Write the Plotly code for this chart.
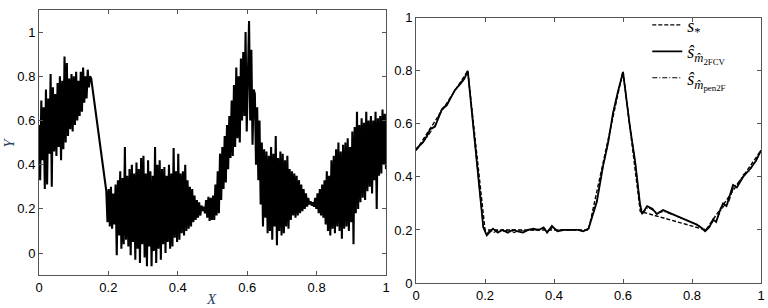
import numpy as np
import plotly.graph_objects as go

Y_obs = [
    0.58, 0.33, 0.69, 0.42, 0.66, 0.29,
    0.74, 0.31, 0.70, 0.45, 0.81, 0.30,
    0.75, 0.46, 0.72, 0.44, 0.77, 0.48,
    0.80, 0.42, 0.78, 0.47, 0.89, 0.50,
    0.86, 0.53, 0.79, 0.56, 0.81, 0.55,
    0.80, 0.58, 0.82, 0.60, 0.78, 0.62,
    0.82, 0.64, 0.84, 0.68, 0.80, 0.70,
    0.83, 0.75, 0.80, 0.79, 0.75, 0.71,
    0.67, 0.63, 0.59, 0.55, 0.51, 0.47,
    0.44, 0.40, 0.37, 0.33, 0.28, 0.14,
    0.29, 0.12, 0.30, 0.11, 0.27, 0.13,
    0.31, -0.01, 0.33, 0.08, 0.37, 0.02,
    0.34, 0.04, 0.48, 0.06, 0.35, 0.03,
    0.38, -0.01, 0.40, 0.05, 0.36, -0.03,
    0.41, 0.02, 0.38, -0.045, 0.43, 0.04,
    0.44, -0.02, 0.36, -0.06, 0.42, 0.03,
    0.37, -0.06, 0.35, 0.01, 0.48, -0.045,
    0.40, 0.02, 0.42, -0.03, 0.38, 0.04,
    0.39, 0.00, 0.35, 0.05, 0.40, 0.02,
    0.36, 0.03, 0.475, 0.07, 0.37, 0.05,
    0.45, 0.06, 0.36, 0.09, 0.37, 0.08,
    0.40, 0.10, 0.33, 0.11, 0.30, 0.12,
    0.29, 0.14, 0.26, 0.15, 0.24, 0.16,
    0.23, 0.17, 0.215, 0.19, 0.21, 0.18,
    0.24, 0.16, 0.255, 0.145, 0.25, 0.15,
    0.26, 0.15, 0.31, 0.17, 0.37, 0.18,
    0.45, 0.24, 0.48, 0.29, 0.53, 0.32,
    0.58, 0.38, 0.62, 0.43, 0.69, 0.44,
    0.76, 0.48, 0.84, 0.52, 0.80, 0.50,
    0.88, 0.60, 0.91, 0.62, 1.00, 0.55,
    0.82, 1.05, 0.60, 0.92, 0.49, 0.74,
    0.72, 0.40, 0.66, 0.33, 0.60, 0.22,
    0.50, 0.12, 0.47, 0.16, 0.46, 0.09,
    0.44, 0.10, 0.48, 0.06, 0.45, 0.12,
    0.53, 0.035, 0.43, 0.10, 0.46, 0.08,
    0.45, 0.09, 0.42, 0.12, 0.44, 0.11,
    0.38, 0.15, 0.37, 0.17, 0.36, 0.16,
    0.35, 0.17, 0.33, 0.18, 0.31, 0.19,
    0.29, 0.20, 0.27, 0.21, 0.25, 0.22,
    0.235, 0.215, 0.23, 0.21, 0.25, 0.20,
    0.27, 0.18, 0.29, 0.17, 0.31, 0.16,
    0.33, 0.13, 0.37, 0.10, 0.35, 0.08,
    0.42, 0.11, 0.44, 0.09, 0.47, 0.12,
    0.50, 0.10, 0.46, 0.065, 0.49, 0.11,
    0.50, 0.12, 0.52, 0.10, 0.48, 0.14,
    0.55, 0.04, 0.57, 0.18, 0.64, 0.20,
    0.58, 0.23, 0.61, 0.25, 0.59, 0.24,
    0.64, 0.28, 0.60, 0.30, 0.62, 0.27,
    0.60, 0.33, 0.64, 0.20, 0.61, 0.35,
    0.62, 0.36, 0.65, 0.40, 0.63, 0.38,
]
X_obs = np.linspace(0, 1, len(Y_obs))

# ---- Right panel: true function and two estimators ----
s_star_x = [0.0, 0.15, 0.20, 0.50, 0.60, 0.65, 0.84, 1.0]
s_star_y = [0.50, 0.80, 0.20, 0.20, 0.80, 0.27, 0.20, 0.50]

fcv_x = [0, 0.02, 0.032, 0.041, 0.055, 0.066, 0.075, 0.089, 0.10, 0.113, 0.128, 0.14, 0.15,
         0.176, 0.195, 0.205, 0.212, 0.223, 0.237, 0.25, 0.266, 0.28, 0.295, 0.31, 0.325,
         0.34, 0.355, 0.37, 0.38, 0.394, 0.41, 0.43, 0.45, 0.47, 0.485, 0.50, 0.524, 0.542,
         0.557, 0.571, 0.585, 0.60, 0.62, 0.635, 0.649, 0.655, 0.67, 0.685, 0.698, 0.716,
         0.76, 0.814, 0.825, 0.838, 0.85, 0.861, 0.87, 0.88, 0.89, 0.90, 0.919, 0.93, 0.948,
         0.968, 0.985, 1.0]
fcv_y = [0.505, 0.53, 0.555, 0.58, 0.59, 0.625, 0.655, 0.67, 0.695, 0.728, 0.75, 0.77, 0.80,
         0.46, 0.21, 0.18, 0.19, 0.205, 0.19, 0.20, 0.19, 0.20, 0.195, 0.19, 0.20,
         0.205, 0.20, 0.21, 0.19, 0.215, 0.195, 0.20, 0.20, 0.20, 0.195, 0.205, 0.305, 0.44,
         0.53, 0.64, 0.72, 0.795, 0.59, 0.46, 0.30, 0.26, 0.29, 0.28, 0.26, 0.275,
         0.25, 0.22, 0.21, 0.195, 0.21, 0.24, 0.23, 0.27, 0.30, 0.29, 0.37, 0.36, 0.40,
         0.43, 0.46, 0.50]

pen_x = [0, 0.02, 0.032, 0.045, 0.058, 0.068, 0.078, 0.09, 0.10, 0.115, 0.13, 0.14, 0.15,
         0.176, 0.195, 0.205, 0.215, 0.225, 0.24, 0.255, 0.27, 0.285, 0.30, 0.315, 0.33,
         0.345, 0.36, 0.372, 0.383, 0.396, 0.41, 0.43, 0.45, 0.47, 0.485, 0.50, 0.524, 0.542,
         0.557, 0.571, 0.585, 0.60, 0.62, 0.635, 0.649, 0.658, 0.672, 0.688, 0.70, 0.718,
         0.76, 0.814, 0.826, 0.84, 0.852, 0.862, 0.872, 0.882, 0.892, 0.905, 0.92, 0.935, 0.95,
         0.965, 0.985, 1.0]
pen_y = [0.50, 0.53, 0.55, 0.575, 0.60, 0.64, 0.66, 0.675, 0.70, 0.73, 0.755, 0.775, 0.80,
         0.46, 0.21, 0.185, 0.20, 0.19, 0.20, 0.195, 0.20, 0.19, 0.20, 0.195, 0.20,
         0.20, 0.205, 0.205, 0.195, 0.21, 0.20, 0.20, 0.20, 0.20, 0.195, 0.205, 0.31, 0.44,
         0.53, 0.64, 0.72, 0.79, 0.59, 0.46, 0.30, 0.265, 0.285, 0.275, 0.265, 0.27,
         0.25, 0.22, 0.21, 0.20, 0.215, 0.235, 0.24, 0.27, 0.29, 0.30, 0.36, 0.38, 0.41,
         0.42, 0.46, 0.50]

fig = go.Figure()
fig.add_trace(go.Scatter(x=X_obs, y=Y_obs, mode="lines", line=dict(color="black", width=2.1),
                         showlegend=False, xaxis="x", yaxis="y"))
fig.add_trace(go.Scatter(x=s_star_x, y=s_star_y, mode="lines",
                         line=dict(color="black", width=1.4, dash="4px,2px"),
                         name="<i>s</i><sub>*</sub>", xaxis="x2", yaxis="y2"))
fig.add_trace(go.Scatter(x=fcv_x, y=fcv_y, mode="lines", line=dict(color="black", width=1.8),
                         name="<i>ŝ</i><sub><i>m̂</i><sub>2FCV</sub></sub>", xaxis="x2", yaxis="y2"))
fig.add_trace(go.Scatter(x=pen_x, y=pen_y, mode="lines",
                         line=dict(color="black", width=1.1, dash="5px,2px,1px,2px"),
                         name="<i>ŝ</i><sub><i>m̂</i><sub>pen2F</sub></sub>", xaxis="x2", yaxis="y2"))

axis_common = dict(showline=True, mirror="ticks", ticks="inside", ticklen=4,
                   linecolor="#555", tickcolor="#555", linewidth=1, showgrid=False,
                   zeroline=False, tickfont=dict(family="Liberation Sans", size=13, color="black"),
                   tickvals=[0, 0.2, 0.4, 0.6, 0.8, 1], ticktext=["0", "0.2", "0.4", "0.6", "0.8", "1"])

fig.update_layout(
    width=768, height=308,
    margin=dict(l=39, r=7, t=3, b=25),
    paper_bgcolor="white", plot_bgcolor="white",
    xaxis=dict(domain=[0, 0.4806], range=[0, 1], anchor="y", **axis_common),
    yaxis=dict(domain=[0.0286, 1], range=[-0.1, 1.1], anchor="x", **axis_common),
    xaxis2=dict(domain=[0.5222, 1], range=[0, 1], anchor="y2", **axis_common),
    yaxis2=dict(domain=[0, 0.9714], range=[0, 1], anchor="x2", **axis_common),
    legend=dict(x=0.8425, y=1.012, xanchor="left", yanchor="top", bgcolor="rgba(0,0,0,0)",
                borderwidth=0, font=dict(family="Liberation Serif", size=18, color="black"),
                tracegroupgap=0),
    annotations=[
        dict(text="<i>X</i>", x=0.2396, y=-0.06, xref="paper", yref="paper", showarrow=False,
             xanchor="center", yanchor="middle", font=dict(family="Liberation Serif", size=15)),
        dict(text="<i>Y</i>", x=-0.0415, y=0.514, xref="paper", yref="paper", showarrow=False,
             textangle=-90, xanchor="center", yanchor="middle",
             font=dict(family="Liberation Serif", size=15)),
    ],
)

fig.write_html("out.html")
